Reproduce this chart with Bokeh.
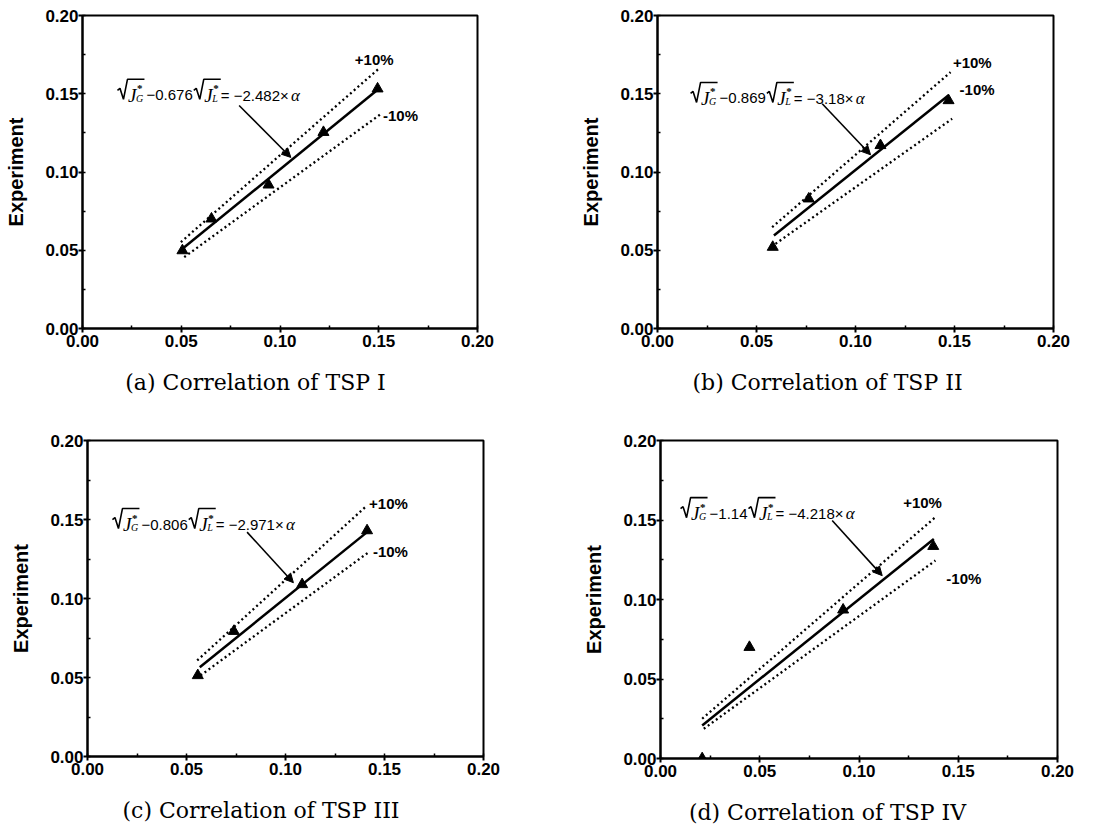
from bokeh.plotting import figure
from bokeh.models import (Range1d, SingleIntervalTicker, NumeralTickFormatter, Label,
                          Arrow, NormalHead)
from bokeh.layouts import column, row
from bokeh.embed import file_html
from bokeh.resources import INLINE

# ---------------- data ----------------
captions = ["(a) Correlation of TSP I", "(b) Correlation of TSP II",
            "(c) Correlation of TSP III", "(d) Correlation of TSP IV"]
coef_l = ["0.676", "0.869", "0.806", "1.14"]
coef_r = ["2.482", "3.18", "2.971", "4.218"]

# triangles: prediction (x) vs experiment (y)
pred_a = [0.0506, 0.0653, 0.0942, 0.1220, 0.1494]
exp_a = [0.0498, 0.0701, 0.0918, 0.1254, 0.1532]
pred_b = [0.0582, 0.0764, 0.1126, 0.1470]
exp_b = [0.0520, 0.0829, 0.1170, 0.1457]
pred_c = [0.0557, 0.0739, 0.1084, 0.1412]
exp_c = [0.0513, 0.0793, 0.1089, 0.1430]
pred_d = [0.0210, 0.0448, 0.0920, 0.1374]
exp_d = [0.0000, 0.0700, 0.0935, 0.1335]

# correlation line (solid) end points
line_x_a = [0.0506, 0.1494]; line_y_a = [0.0509, 0.1525]
line_x_b = [0.0588, 0.1470]; line_y_b = [0.0594, 0.1490]
line_x_c = [0.0567, 0.1412]; line_y_c = [0.0565, 0.1420]
line_x_d = [0.0210, 0.1377]; line_y_d = [0.0208, 0.1380]

# +10 % band (dotted)
up_x_a = [0.0498, 0.1500]; up_y_a = [0.0552, 0.1660]
up_x_b = [0.0579, 0.1480]; up_y_b = [0.0647, 0.1638]
up_x_c = [0.0554, 0.1412]; up_y_c = [0.0608, 0.1589]
up_x_d = [0.0210, 0.1385]; up_y_d = [0.0250, 0.1518]

# -10 % band (dotted)
lo_x_a = [0.0515, 0.1510]; lo_y_a = [0.0456, 0.1370]
lo_x_b = [0.0596, 0.1488]; lo_y_b = [0.0541, 0.1340]
lo_x_c = [0.0571, 0.1420]; lo_y_c = [0.0513, 0.1293]
lo_x_d = [0.0218, 0.1385]; lo_y_d = [0.0187, 0.1245]

PX = [(pred_a, exp_a, line_x_a, line_y_a, up_x_a, up_y_a, lo_x_a, lo_y_a),
      (pred_b, exp_b, line_x_b, line_y_b, up_x_b, up_y_b, lo_x_b, lo_y_b),
      (pred_c, exp_c, line_x_c, line_y_c, up_x_c, up_y_c, lo_x_c, lo_y_c),
      (pred_d, exp_d, line_x_d, line_y_d, up_x_d, up_y_d, lo_x_d, lo_y_d)]

# ---------------- annotation placement (data coords) ----------------
EQ_POS = [(0.0177, 0.149), (0.0167, 0.147), (0.0126, 0.1468), (0.0101, 0.154)]
ARROWS = [(0.0793, 0.1425, 0.1055, 0.1093),
          (0.0832, 0.1436, 0.1076, 0.1110),
          (0.0806, 0.1420, 0.1040, 0.1100),
          (0.0865, 0.1497, 0.1117, 0.1150)]
PLUS_POS = [(0.1477, 0.172), (0.1590, 0.170), (0.1520, 0.160), (0.1320, 0.161)]
MINUS_POS = [(0.1610, 0.136), (0.1614, 0.153), (0.1530, 0.130), (0.1528, 0.113)]
CAP_PAD = [7, 8, 7, 9]   # trailing no-break spaces: shift caption left of centre

# ---------------- layout geometry (px) ----------------
GEOM = [  # frame_w, frame_h, left, right, top, bottom
    (395, 313, 82, 83, 15, 92),
    (396, 313, 97, 40, 10, 97),
    (396, 316, 87, 77, 20, 73),
    (397, 318, 100, 40, 15, 76),
]

SANS = "Liberation Sans"
SERIF = "Liberation Serif"
CW = {"0": .556, "1": .556, "2": .556, "3": .556, "4": .556, "5": .556, "6": .556,
      "7": .556, "8": .556, "9": .556, ".": .278, "\u2212": .584, "=": .584,
      "\u00d7": .584, " ": .278}


def text_w(s, fs):
    return sum(CW.get(c, .556) for c in s) * fs


def equation(p, x0, y0, c1, c2, fw, fh):
    kx = 0.2 / fw
    ky = 0.2 / fh
    fs = 15

    def lab(t, dx, dy, size, font, style="normal"):
        p.add_layout(Label(x=x0, y=y0, x_offset=dx, y_offset=dy, text=t,
                           text_font=font, text_font_size=f"{size}px",
                           text_font_style=style, text_color="black",
                           text_baseline="alphabetic", text_align="left"))

    def radical(dx, sub):
        xs = [dx + 0, dx + 2.5, dx + 6, dx + 10, dx + 27]
        ys = [5, 7, -4, 16, 16]
        p.line([x0 + u * kx for u in xs], [y0 + v * ky for v in ys],
               line_color="black", line_width=1.6)
        lab("J", dx + 10.5, 0, 19, SERIF, "italic")
        lab("*", dx + 19.5, 7, 11, SERIF, "bold")
        lab(sub, dx + 18.5, -3, 10, SERIF, "italic")

    radical(0, "G")
    t1 = "\u2212" + c1
    lab(t1, 29, 0, fs, SANS)
    r2 = 29 + text_w(t1, fs) + 1
    radical(r2, "L")
    t2 = " = \u2212" + c2 + "\u00d7"
    lab(t2, r2 + 27, 0, fs, SANS)
    lab("\u03b1", r2 + 27 + text_w(t2, fs) - 2, 0, 17, SERIF, "italic")


def panel(i):
    fw, fh, bl, br, bt, bb = GEOM[i]
    xs, ys, lx, ly, ux, uy, dx_, dy_ = PX[i]
    p = figure(frame_width=fw, frame_height=fh, x_range=Range1d(0, 0.2),
               y_range=Range1d(0, 0.2), output_backend="svg", toolbar_location=None,
               min_border_left=bl, min_border_right=br, min_border_top=bt,
               min_border_bottom=bb, background_fill_color="white",
               border_fill_color="white")
    p.grid.visible = False
    p.outline_line_color = "black"
    p.outline_line_width = 2
    p.outline_line_alpha = 1
    for ax in (p.xaxis[0], p.yaxis[0]):
        ax.ticker = SingleIntervalTicker(interval=0.05, num_minor_ticks=2)
        ax.formatter = NumeralTickFormatter(format="0.00")
        ax.axis_line_width = 2
        ax.axis_line_color = "black"
        ax.major_tick_line_width = 2
        ax.major_tick_line_color = "black"
        ax.major_tick_out = 4
        ax.major_tick_in = 0
        ax.minor_tick_in = 3
        ax.minor_tick_out = 0
        ax.minor_tick_line_width = 1.5
        ax.minor_tick_line_color = "black"
        ax.major_label_text_font = SANS
        ax.major_label_text_font_size = "17px"
        ax.major_label_text_font_style = "bold"
        ax.major_label_text_color = "black"
    p.xaxis.major_label_standoff = 2
    p.yaxis.major_label_standoff = 0
    p.yaxis.axis_label = "Experiment"
    p.yaxis.axis_label_text_font = SANS
    p.yaxis.axis_label_text_font_size = "20px"
    p.yaxis.axis_label_text_font_style = "bold"
    p.yaxis.axis_label_text_color = "black"
    p.yaxis.axis_label_standoff = 15

    # caption of the panel, set as the x-axis title
    p.xaxis.axis_label = captions[i] + "\u00a0" * CAP_PAD[i]
    p.xaxis.axis_label_text_font = "DejaVu Serif"
    p.xaxis.axis_label_text_font_size = "22px"
    p.xaxis.axis_label_text_font_style = "normal"
    p.xaxis.axis_label_text_color = "black"
    p.xaxis.axis_label_standoff = 20

    p.line(ux, uy, line_color="black", line_width=2.3, line_dash="2 3")
    p.line(dx_, dy_, line_color="black", line_width=2.3, line_dash="2 3")
    p.line(lx, ly, line_color="black", line_width=2.5)
    p.scatter(xs, ys, marker="triangle", size=11, fill_color="black",
              line_color="black")

    ex, ey = EQ_POS[i]
    equation(p, ex, ey, coef_l[i], coef_r[i], fw, fh)
    ax0, ay0, ax1, ay1 = ARROWS[i]
    p.add_layout(Arrow(end=NormalHead(size=9, fill_color="black", line_color="black"),
                       x_start=ax0, y_start=ay0, x_end=ax1, y_end=ay1,
                       line_color="black", line_width=1.6))
    for (tx, ty), t in ((PLUS_POS[i], "+10%"), (MINUS_POS[i], "-10%")):
        p.add_layout(Label(x=tx, y=ty, text=t, text_font=SANS, text_font_size="15px",
                           text_font_style="bold", text_align="center",
                           text_baseline="middle", text_color="black"))
    return p


panels = [panel(i) for i in range(4)]
layout = column(row(panels[0], panels[1]), row(panels[2], panels[3]))
open("out.html", "w").write(file_html(layout, INLINE))
